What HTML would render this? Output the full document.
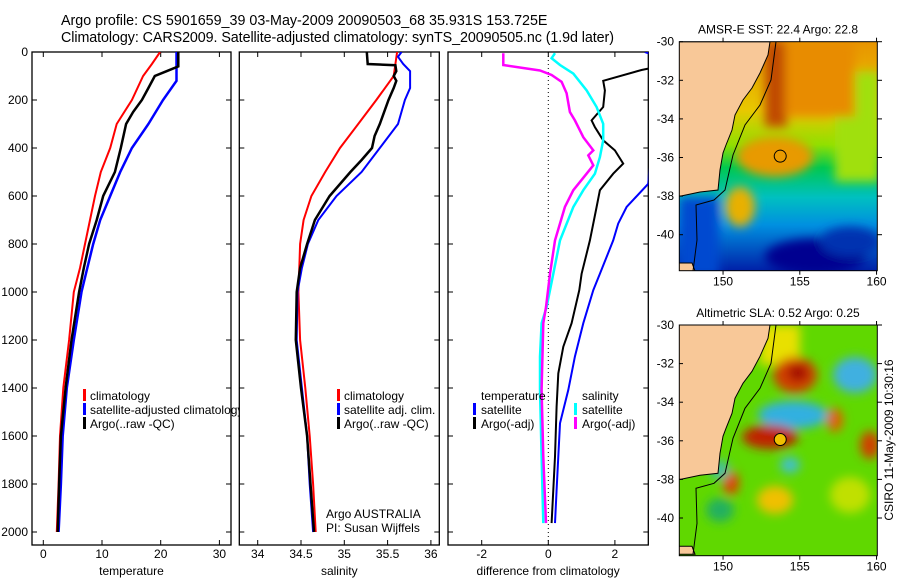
<!DOCTYPE html>
<html><head><meta charset="utf-8">
<style>
html,body{margin:0;padding:0;background:#fff;}
svg{display:block;font-family:"Liberation Sans",sans-serif;}
</style></head>
<body>
<svg id="fig" width="900" height="580" viewBox="0 0 900 580" xmlns="http://www.w3.org/2000/svg">
<defs>
<clipPath id="c1"><rect x="32" y="52" width="199" height="493"/></clipPath>
<clipPath id="c2"><rect x="239.3" y="52" width="200" height="493"/></clipPath>
<clipPath id="c3"><rect x="448" y="52" width="200.3" height="493"/></clipPath>
<clipPath id="cm1"><rect x="679.3" y="41.7" width="198" height="229"/></clipPath>
<clipPath id="cm2"><rect x="679.3" y="325" width="198" height="230.7"/></clipPath>
<clipPath id="cleg1"><rect x="32" y="380" width="207" height="60"/></clipPath>
<linearGradient id="sstg" x1="0" y1="0" x2="0" y2="1">
<stop offset="0" stop-color="#e89400"/><stop offset="0.3" stop-color="#e8c800"/>
<stop offset="0.45" stop-color="#90e000"/><stop offset="0.55" stop-color="#00c850"/>
<stop offset="0.68" stop-color="#00c0c0"/><stop offset="0.8" stop-color="#0090e0"/>
<stop offset="1" stop-color="#0020a8"/></linearGradient>
<filter id="blur4"><feGaussianBlur stdDeviation="5"/></filter>
</defs>
<g font-size="14.3">
<text x="61" y="25">Argo profile: CS 5901659_39 03-May-2009 20090503_68 35.931S 153.725E</text>
<text x="61" y="42" textLength="553">Climatology: CARS2009. Satellite-adjusted climatology: synTS_20090505.nc (1.9d later)</text>
</g>
<g id="panels"></g>
<g id="maps"></g>
</svg>
<script>
// ---- data (depth in dbar) ----
const depthsT = [0,50,100,200,300,400,500,600,700,800,900,1000,1200,1400,1600,1800,2000];
const tempClim = [19.9,18.5,17.0,15.1,12.5,11.4,9.8,8.8,7.95,7.1,6.25,5.2,4.4,3.4,2.85,2.6,2.3];
const depthsTs = [0,120,200,300,400,500,600,700,800,900,1000,1200,1400,1600,1800,2000];
const tempSat = [22.7,22.7,20.4,17.9,15.1,13.1,11.4,9.7,8.5,7.5,6.5,5.2,4.0,3.3,3.0,2.6];
const depthsTa = [0,60,80,100,150,200,250,300,400,500,600,700,800,900,1000,1200,1400,1600,1800,2000];
const tempArgo = [23.0,23.0,21.0,19.0,17.9,16.8,15.3,14.1,13.2,12.2,10.2,9.1,7.8,6.9,6.1,4.8,3.8,3.0,2.7,2.45];
const depthsS = [0,100,200,300,400,500,600,700,800,900,1000,1200,1400,1600,1800,2000];
const salClim = [35.61,35.57,35.37,35.16,34.95,34.78,34.62,34.53,34.49,34.48,34.47,34.49,34.55,34.6,34.64,34.67];
const depthsSs = [0,20,50,80,150,200,300,400,500,600,700,800,900,1000,1200,1400,1600,1800,2000];
const salSat = [35.66,35.62,35.68,35.76,35.76,35.70,35.62,35.41,35.20,34.91,34.70,34.58,34.51,34.46,34.45,34.51,34.57,34.60,34.64];
const depthsSa = [0,50,55,80,100,120,150,200,300,350,400,450,500,600,700,800,900,1000,1200,1400,1600,1800,2000];
const salArgo = [35.26,35.27,35.59,35.6,35.57,35.6,35.57,35.51,35.41,35.35,35.32,35.2,35.07,34.83,34.66,34.57,34.49,34.45,34.44,34.5,34.57,34.61,34.65];
const depthsDm = [5,54,77,96,124,172,250,285,355,410,431,472,507,576,646,785,924,1063,1130,1408,1686,1963];
const diffSalArgo = [-1.35,-1.35,-0.25,0.1,0.4,0.55,0.65,0.8,1.05,1.35,1.2,1.35,1.15,0.75,0.5,0.2,0.05,-0.07,-0.15,-0.2,-0.15,-0.07];
const depthsDc = [5,26,54,90,160,229,299,368,438,507,576,646,785,924,1063,1130,1269,1408,1686,1963];
const diffSalSat = [0.2,0.1,0.35,0.75,1.15,1.45,1.65,1.65,1.55,1.4,1.05,0.75,0.35,0.15,-0.05,-0.2,-0.25,-0.25,-0.2,-0.15];
const depthsDk = [69,75,120,160,229,285,313,368,410,465,507,576,646,785,924,992,1130,1228,1339,1478,1686,1825,1963];
const diffTempArgo = [3.0,2.8,1.65,1.7,1.65,1.3,1.4,1.65,2.0,2.25,1.95,1.55,1.45,1.25,1.0,0.93,0.7,0.45,0.3,0.25,0.2,0.15,0.1];
const depthsDb = [0,20,549,646,715,785,924,992,1130,1269,1408,1547,1686,1825,1963];
const diffTempSat = [2.9,3.3,3.0,2.35,2.1,1.95,1.55,1.35,1.05,0.8,0.6,0.35,0.3,0.25,0.2];
const depthTicks = [0,200,400,600,800,1000,1200,1400,1600,1800,2000];
const tTicks = [0,10,20,30];
const sTicks = [34,34.5,35,35.5,36];
const dTicks = [-2,0,2];
const lonTicks = [150,155,160];
const latTicks = [-30,-32,-34,-36,-38,-40];
const argoLon = 153.725, argoLat = -35.931;

const NS='http://www.w3.org/2000/svg';
function mk(tag, attrs, parent){const e=document.createElementNS(NS,tag);for(const k in attrs)e.setAttribute(k,attrs[k]);if(parent)parent.appendChild(e);return e;}
const yD = d => 52 + d*0.24;
const panelsG=document.getElementById('panels');
const panels=[
 {name:'temperature-panel',x0:32,x1:231,sx:v=>43.3+5.87*v,ticks:tTicks,lab:'temperature',clip:'c1',ylabels:true},
 {name:'salinity-panel',x0:239.3,x1:439.3,sx:v=>257.7+86.6*(v-34),ticks:sTicks,lab:'salinity',clip:'c2'},
 {name:'difference-panel',x0:448,x1:648.3,sx:v=>548.3+33.3*v,ticks:dTicks,lab:'difference from climatology',clip:'c3'}
];
panels.forEach(p=>{
  const g=mk('g',{},panelsG);
  
  
  const r=mk('rect',{x:p.x0,y:52,width:p.x1-p.x0,height:493,fill:'none',stroke:'#000','stroke-width':1.3},g);
  
  
  depthTicks.forEach(d=>{
    mk('line',{x1:p.x0,x2:p.x0+5,y1:yD(d),y2:yD(d),stroke:'#000'},g);
    mk('line',{x1:p.x1,x2:p.x1-5,y1:yD(d),y2:yD(d),stroke:'#000'},g);
    if(p.ylabels){const t=mk('text',{x:28,y:yD(d)+4,'font-size':12,'text-anchor':'end'},g);t.textContent=d;
      
      }
  });
  p.ticks.forEach(v=>{
    const x=p.sx(v);
    mk('line',{x1:x,x2:x,y1:52,y2:57,stroke:'#000'},g);
    mk('line',{x1:x,x2:x,y1:545,y2:540,stroke:'#000'},g);
    const t=mk('text',{x:x,y:558,'font-size':12,'text-anchor':'middle'},g);t.textContent=v;
    
    
  });
  const l=mk('text',{x:(p.x0+p.x1)/2,y:575,'font-size':12,'text-anchor':'middle'},g);l.textContent=p.lab;
  
  
  p.g=g;
});
function line(p, ds, vs, color, w, name){
  const pts=ds.map((d,i)=>p.sx(vs[i]).toFixed(1)+','+yD(d).toFixed(1)).join(' ');
  const e=mk('polyline',{points:pts,fill:'none',stroke:color,'stroke-width':w,'clip-path':'url(#'+p.clip+')'},p.g);
  
  
}
line(panels[0],depthsT,tempClim,'#f00',2,'temp-climatology-line');
line(panels[0],depthsTs,tempSat,'#00f',2.5,'temp-satellite-line');
line(panels[0],depthsTa,tempArgo,'#000',2.5,'temp-argo-line');
line(panels[1],depthsS,salClim,'#f00',2,'sal-climatology-line');
line(panels[1],depthsSs,salSat,'#00f',2,'sal-satellite-line');
line(panels[1],depthsSa,salArgo,'#000',2.5,'sal-argo-line');
mk('line',{x1:548.3,x2:548.3,y1:52,y2:545,stroke:'#000','stroke-dasharray':'1,3'},panels[2].g);
line(panels[2],depthsDb,diffTempSat,'#00f',2,'diff-temp-satellite-line');
line(panels[2],depthsDk,diffTempArgo,'#000',2,'diff-temp-argo-line');
line(panels[2],depthsDc,diffSalSat,'#0ff',2.5,'diff-sal-satellite-line');
line(panels[2],depthsDm,diffSalArgo,'#f0f',2.5,'diff-sal-argo-line');

function legend(g, items, bx, tx, clip){
  items.forEach((it,i)=>{
    const y=398+i*14;
    if(it[1]){const b=mk('rect',{x:bx,y:y-9,width:3,height:12,fill:it[1]},g);
      
      }
    const t=mk('text',{x:tx,y:y+2,'font-size':12},g);t.textContent=it[0];
    if(clip)t.setAttribute('clip-path','url(#'+clip+')');
    
    
  });
}
legend(panels[0].g,[['climatology','#f00'],['satellite-adjusted climatology','#00f'],['Argo(..raw -QC)','#000']],83,90,'cleg1');
legend(panels[1].g,[['climatology','#f00'],['satellite adj. clim.','#00f'],['Argo(..raw -QC)','#000']],337,344);
legend(panels[2].g,[['temperature',null],['satellite','#00f'],['Argo(-adj)','#000']],473,481);
legend(panels[2].g,[['salinity',null],['satellite','#0ff'],['Argo(-adj)','#f0f']],574,582);
const pi=mk('text',{x:326,y:518,'font-size':12},panels[1].g);pi.textContent='Argo AUSTRALIA';


const pi2=mk('text',{x:326,y:532,'font-size':12},panels[1].g);pi2.textContent='PI: Susan Wijffels';



// ---- maps ----
const mapsG=document.getElementById('maps');
const mlx = lon => 679.3+(lon-147.15)*15.35;
function drawMap(top, bottom, clip, title, name, kind){
  const g=mk('g',{},mapsG);
  
  
  const mly = lat => top+(-30-lat)*19.3;
  const c=mk('g',{'clip-path':'url(#'+clip+')'},g);
  if(kind==='sst'){
    mk('rect',{x:679,y:top,width:200,height:bottom-top,fill:'url(#sstg)'},c);
    const b=mk('g',{filter:'url(#blur4)'},c);
    mk('rect',{x:835,y:top+30,width:45,height:110,fill:'#a0e010'},b);
    mk('rect',{x:765,y:top,width:22,height:85,fill:'#c04800'},b);
    mk('rect',{x:785,y:top,width:70,height:75,fill:'#e88c00'},b);
    mk('ellipse',{cx:775,cy:top+115,rx:38,ry:20,fill:'#e89a00'},b);
    mk('ellipse',{cx:740,cy:top+165,rx:15,ry:20,fill:'#e8b000'},b);
    mk('rect',{x:679,y:top+155,width:40,height:80,fill:'#0048d0'},b);
    mk('ellipse',{cx:815,cy:top+215,rx:50,ry:18,fill:'#000090'},b);
    mk('ellipse',{cx:850,cy:top+200,rx:30,ry:15,fill:'#0030b0'},b);
  } else {
    mk('rect',{x:679,y:top,width:200,height:bottom-top,fill:'#60d800'},c);
    const b=mk('g',{filter:'url(#blur4)'},c);
    mk('rect',{x:760,y:top,width:40,height:40,fill:'#e8e000'},b);
    mk('ellipse',{cx:795,cy:top+50,rx:22,ry:18,fill:'#d04000'},b);
    mk('ellipse',{cx:798,cy:top+48,rx:10,ry:8,fill:'#a00000'},b);
    mk('ellipse',{cx:855,cy:top+50,rx:22,ry:18,fill:'#40b0e0'},b);
    mk('ellipse',{cx:793,cy:top+90,rx:35,ry:14,fill:'#30b0e0'},b);
    mk('ellipse',{cx:770,cy:top+112,rx:28,ry:12,fill:'#c02000'},b);
    mk('ellipse',{cx:835,cy:top+95,rx:8,ry:12,fill:'#e06000'},b);
    mk('ellipse',{cx:870,cy:top+120,rx:10,ry:14,fill:'#d04000'},b);
    mk('ellipse',{cx:731,cy:top+158,rx:8,ry:12,fill:'#e04000'},b);
    mk('ellipse',{cx:775,cy:top+175,rx:18,ry:14,fill:'#f0c000'},b);
    mk('ellipse',{cx:720,cy:top+145,rx:10,ry:10,fill:'#40c0a0'},b);
    mk('ellipse',{cx:790,cy:top+140,rx:10,ry:8,fill:'#40c0d0'},b);
    mk('ellipse',{cx:720,cy:top+185,rx:14,ry:12,fill:'#20b060'},b);
    mk('ellipse',{cx:850,cy:top+170,rx:20,ry:18,fill:'#c0e000'},b);
  }
  const o=top-41.7;
  const land=[[679,41.7],[770,41.7],[768,55],[760,73],[752,88],[743,100],[735,115],[732,130],[726,145],[723,153],[720,170],[718,190],[700,192],[681,196],[679,196]];
  const lp=mk('polygon',{points:land.map(q=>q[0]+','+(q[1]+o)).join(' '),fill:'#f8c898',stroke:'#000','stroke-width':1},c);
  
  
  mk('polygon',{points:`679,${263+o} 692,${263+o} 695,${271+o} 679,${271+o}`,fill:'#f8c898',stroke:'#000'},c);
  mk('polyline',{points:`776,${41.7+o} 771,${80+o} 760,${105+o} 745,${125+o} 733,${155+o} 725,${190+o} 714,${200+o} 696,${205+o} 697,${240+o} 693,${271+o}`,fill:'none',stroke:'#000','stroke-width':1},c);
  const m=mk('circle',{cx:mlx(argoLon),cy:mly(argoLat),r:6,fill:kind==='sst'?'none':'#f0c000',stroke:'#000','stroke-width':1},g);
  
  
  mk('rect',{x:679.3,y:top,width:198,height:bottom-top,fill:'none',stroke:'#000'},g);
  latTicks.forEach(lat=>{
    const y=mly(lat);
    mk('line',{x1:679.3,x2:683,y1:y,y2:y,stroke:'#000'},g);
    mk('line',{x1:877.3,x2:882,y1:y,y2:y,stroke:'#000'},g);
    const t=mk('text',{x:674,y:y+4,'font-size':12,'text-anchor':'end'},g);t.textContent=lat;
    
    
  });
  lonTicks.forEach(lon=>{
    const x=mlx(lon);
    mk('line',{x1:x,x2:x,y1:top,y2:top-4,stroke:'#000'},g);
    mk('line',{x1:x,x2:x,y1:bottom,y2:bottom+4,stroke:'#000'},g);
    const t=mk('text',{x:x,y:bottom+15,'font-size':12,'text-anchor':'middle'},g);t.textContent=lon;
    
    
  });
  const tt=mk('text',{x:778,y:top-8,'font-size':12,'text-anchor':'middle'},g);tt.textContent=title;
  
  
}
drawMap(41.7,270.7,'cm1','AMSR-E SST: 22.4 Argo: 22.8','sst-map','sst');
drawMap(325,555.7,'cm2','Altimetric SLA: 0.52 Argo: 0.25','sla-map','sla');
const cs=mk('text',{x:893,y:440,'font-size':12,'text-anchor':'middle',transform:'rotate(-90 893 440)'},mapsG);
cs.textContent='CSIRO 11-May-2009 10:30:16';


</script>
</body></html>
